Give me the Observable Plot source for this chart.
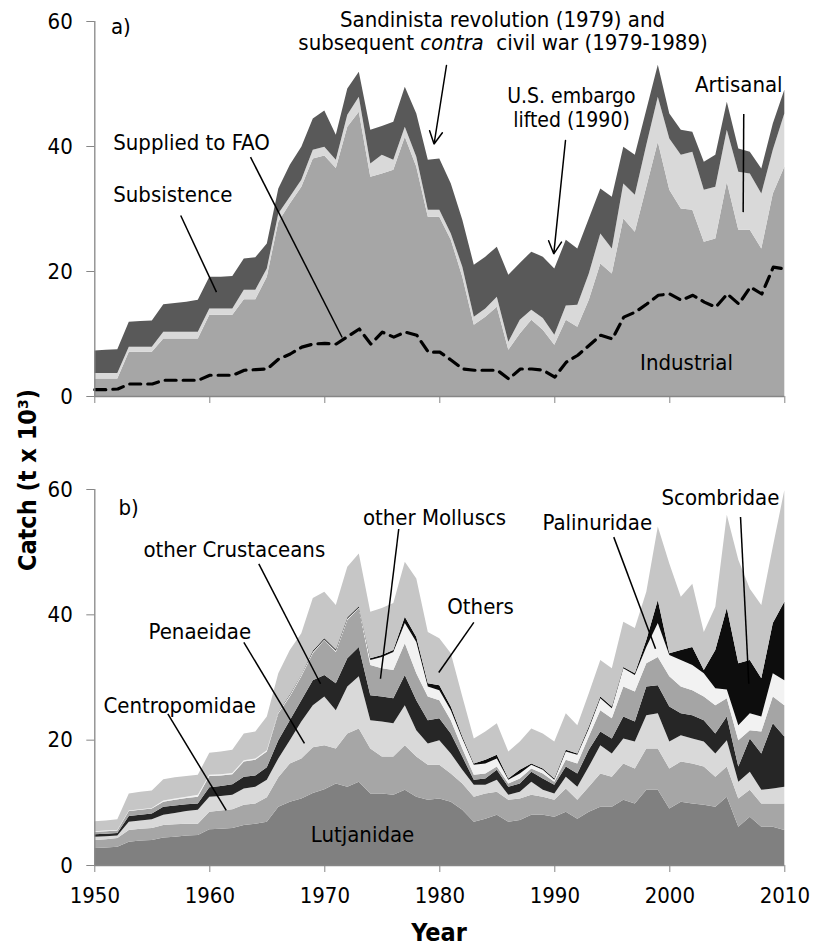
<!DOCTYPE html>
<html><head><meta charset="utf-8">
<script src="https://cdn.jsdelivr.net/npm/d3@7"></script>
<script src="https://cdn.jsdelivr.net/npm/@observablehq/plot@0.6"></script>
<style>
body{margin:0;background:#fff;}
#fig{position:relative;width:822px;height:946px;overflow:hidden;font-family:"DejaVu Sans Condensed","DejaVu Sans",sans-serif;font-stretch:condensed;}
#fig svg{position:absolute;left:0;}
.ttl{position:absolute;font-weight:bold;font-size:25px;white-space:nowrap;color:#000;line-height:1;}
</style></head><body>
<div id="fig"></div>
<script>
// ---------- data ----------
const years = d3.range(1950, 2011);
const decades = [1950, 1960, 1970, 1980, 1990, 2000, 2010];
const yTicks = [0, 20, 40, 60];

// panel a (t x 10^3)
const layersA = ["Industrial", "Artisanal", "Subsistence"];
const colorsA = ["#a6a6a6", "#d9d9d9", "#595959"];
const industrial = [2.8,2.8,2.8,7.1,7.1,7.1,9.2,9.2,9.2,9.2, 13,13,13,15.5,15.5,19.1,27.9,30.8,33.5,38, 38.5,36.5,43.1,45.5,35.1,35.6,36.2,41.5,36.7,28.7, 28.7,25,19.1,11.4,12.7,14.3,7.4,10,12.2,10.6, 8.2,12.2,11.1,15.4,21.2,19.6,28.4,26.3,33.5,40.7, 33,30,29.8,24.7,25.2,34.3,26.6,26.6,23.6,32.4,36.7];
const artisanal = [0.9,0.9,0.9,0.8,0.8,0.8,1.1,1.1,1.1,1.1, 1.0,1.0,1.0,1.5,1.5,1.3,1.3,1.1,1.1,1.4, 1.4,1.3,1.9,2.4,2.1,3.0,1.6,1.6,1.6,1.1, 1.1,1.0,1.6,1.3,1.3,1.6,1.3,2.2,1.6,1.9, 1.6,2.3,3.5,4.2,4.8,4.0,5.6,5.9,6.7,7.2, 8.2,8.6,9.3,8.3,8.3,8.3,9.3,9.0,8.8,7.0,8.5];
const subsistence = [3.6,3.7,3.8,4.0,4.1,4.2,4.4,4.6,4.8,5.1, 5.1,5.1,5.2,5.0,5.2,4.0,4.0,5.1,5.3,5.0, 5.8,4.0,4.2,4.0,5.4,4.6,6.1,6.4,6.9,8.0, 8.2,8.0,7.5,8.3,8.3,8.0,10.7,9.1,9.3,9.8, 10.6,10.5,9.0,8.8,7.2,8.3,5.9,6.4,5.6,5.1, 4.0,4.0,3.2,4.5,5.1,4.5,3.7,3.5,4.0,4.2,3.8];
const suppliedToFAO = [1.1,1.1,1.2,2.0,2.0,2.0,2.6,2.6,2.6,2.6, 3.4,3.4,3.4,4.2,4.3,4.4,6.0,6.8,7.9,8.4, 8.5,8.4,9.6,10.8,8.4,10.3,9.5,10.3,9.8,7.1, 7.1,5.8,4.4,4.2,4.2,4.2,2.8,4.4,4.4,4.2, 3.1,5.5,6.6,8.2,9.8,9.2,12.7,13.5,14.8,16.2, 16.4,15.4,16.2,15.1,14.3,16.4,14.8,17.5,16.4,20.7,20.4];

// panel b (t x 10^3), bottom to top
const layersB = ["Lutjanidae", "Centropomidae", "Penaeidae", "other Crustaceans", "other Molluscs", "Palinuridae", "Scombridae", "Others"];
const colorsB = ["#808080", "#a6a6a6", "#d9d9d9", "#262626", "#a5a5a5", "#f2f2f2", "#0d0d0d", "#c6c6c6"];
const lutjanidae = [2.7,2.8,2.9,3.7,3.9,4.0,4.4,4.5,4.7,4.8, 5.7,5.8,5.9,6.4,6.6,6.9,9.3,10.1,10.6,11.5, 12.1,13.0,12.5,13.3,11.4,11.4,11.2,12.0,10.9,10.4, 10.6,10.1,8.8,6.9,7.4,8.0,6.9,7.2,8.0,8.0, 7.7,8.5,7.4,8.5,9.3,9.3,10.4,9.8,12.0,12.0, 9.0,10.1,9.8,9.6,9.3,10.9,6.1,7.7,6.1,6.1,5.6];
const centropomidae = [1.3,1.3,1.4,1.9,1.9,1.9,2.0,2.0,1.9,1.8, 2.8,2.9,3.0,3.2,3.2,3.9,4.7,6.1,6.4,7.3, 7.0,5.6,8.5,8.5,7.2,5.9,6.1,7.1,6.4,5.6, 5.4,4.5,4.2,4.0,4.0,3.7,3.5,3.4,3.2,2.9, 2.7,3.7,3.0,4.0,5.3,4.8,5.8,5.6,6.6,6.6, 6.4,6.4,6.4,6.1,4.8,4.8,4.5,4.3,3.7,3.7,4.2];
const penaeidae = [0.5,0.5,0.4,1.3,1.3,1.4,1.6,1.8,2.0,2.2, 2.4,2.3,2.3,2.6,2.7,2.8,3.0,3.7,5.9,6.7, 7.8,6.1,7.5,8.3,4.5,5.6,5.3,6.4,4.2,3.4, 3.9,3.2,2.2,1.9,1.4,1.9,0.8,1.1,2.1,1.1, 1.0,1.9,2.1,3.2,4.5,3.7,4.0,4.3,5.3,5.6, 4.3,4.2,4.0,4.0,3.7,4.2,2.7,2.9,2.2,2.4,2.7];
const otherCrustaceans = [0.4,0.4,0.4,0.9,0.9,0.9,1.3,1.2,1.1,1.0, 1.5,1.6,1.7,1.9,1.8,2.0,2.9,3.2,3.4,4.0, 3.4,4.3,4.5,4.7,4.0,4.0,4.0,4.8,4.8,3.7, 3.5,3.2,2.1,0.8,1.0,1.6,1.3,1.3,1.6,1.8, 1.4,1.6,2.1,2.7,2.2,2.4,3.5,3.2,4.6,4.5, 5.6,3.5,3.7,3.4,3.2,3.8,2.4,5.3,5.8,10.4,8.0];
const otherMolluscs = [0.4,0.4,0.4,0.8,0.8,0.8,0.8,0.9,1.0,1.1, 1.8,1.7,1.6,2.4,2.5,2.5,4.3,3.8,3.8,4.3, 5.6,5.0,6.1,6.2,4.8,4.5,4.5,5.1,4.3,3.8, 2.9,2.1,1.3,0.8,0.8,0.5,0.5,0.8,0.5,0.8, 0.5,1.1,1.6,2.1,3.4,3.2,4.8,4.8,3.7,4.5, 4.8,4.3,4.0,3.8,4.5,2.9,4.2,1.3,3.5,4.3,5.0];
const palinuridae = [0.1,0.1,0.1,0.1,0.1,0.1,0.2,0.2,0.2,0.3, 0.2,0.2,0.2,0.2,0.2,0.2,0.2,0.2,0.2,0.2, 0.1,0.2,0.2,0.1,0.8,1.8,2.9,3.2,5.0,1.6, 1.6,1.6,1.6,1.6,1.6,1.3,0.6,0.8,0.6,0.6, 0.3,1.3,1.4,1.3,1.9,1.6,2.9,2.6,2.6,5.4, 3.4,4.2,4.0,3.7,2.7,1.4,2.4,2.7,2.4,3.7,4.0];
const scombridae = [0,0,0,0,0,0,0,0,0,0, 0,0,0,0,0,0,0.1,0.1,0.1,0.2, 0.2,0.2,0.2,0.2,0.3,0.3,0.3,1.0,0.8,0.5, 0.8,0.6,0.3,0.2,0.6,0.6,0.2,0.6,0.2,0.2, 0.2,0.3,0.2,0.3,0.3,0.3,0.2,0.3,1.1,3.7, 0.3,1.6,2.9,0.5,6.1,13.0,9.9,8.5,6.1,8.0,12.5];
const others = [1.6,1.6,1.7,2.7,2.8,2.8,3.4,3.4,3.3,3.2, 3.5,3.6,3.7,4.3,4.3,5.4,6.1,7.1,6.6,8.4, 7.4,7.1,8.1,8.4,7.4,7.5,7.5,8.8,9.3,8.2, 7.5,8.5,6.4,4.0,4.5,5.0,4.3,4.5,5.6,5.6, 5.9,5.8,4.5,5.3,5.8,6.1,7.2,7.2,7.7,11.7, 14.3,8.5,10.1,6.1,6.9,14.9,16.5,11.4,11.7,12.2,17.8];
const seriesB = [lutjanidae, centropomidae, penaeidae, otherCrustaceans, otherMolluscs, palinuridae, scombridae, others];

// annotations (data coordinates: year, catch)
const labelsA = [
  {x:1951.4, y:59.2, t:"a)", a:"start"},
  {x:1951.6, y:40.5, t:"Supplied to FAO", a:"start"},
  {x:1951.6, y:32.2, t:"Subsistence", a:"start"},
  {x:1985.45, y:60.2, t:"Sandinista revolution (1979) and", a:"middle"},
  {x:1985.5, y:56.5, t:"subsequent contra  civil war (1979-1989)", a:"middle"},
  {x:2006.0, y:49.9, t:"Artisanal", a:"middle"},
  {x:2001.45, y:5.3, t:"Industrial", a:"middle"}
];
const labelEmbargo = [{x:1991.45, y:46.3, t:"U.S. embargo\nlifted (1990)"}];
const leadersA = [
  {x1:1957.47, y1:28.96, x2:1960.58, y2:16.7},
  {x1:1963.54, y1:38.3, x2:1971.51, y2:9.44},
  {x1:2006.43, y1:45.2, x2:2006.38, y2:29.5}
];
const arrowsA = [
  {x1:1980.58, y1:52.96, x2:1979.5, y2:40.4},
  {x1:1990.93, y1:40.96, x2:1989.91, y2:22.83}
];
const labelsB = [
  {x:1952.06, y:57.1, t:"b)", a:"start"},
  {x:1954.23, y:50.3, t:"other Crustaceans", a:"start"},
  {x:1954.67, y:37.3, t:"Penaeidae", a:"start"},
  {x:1950.76, y:25.4, t:"Centropomidae", a:"start"},
  {x:1973.28, y:4.8, t:"Lutjanidae", a:"middle"},
  {x:1979.54, y:55.4, t:"other Molluscs", a:"middle"},
  {x:1983.54, y:41.3, t:"Others", a:"middle"},
  {x:1993.7, y:54.6, t:"Palinuridae", a:"middle"},
  {x:2004.4, y:58.6, t:"Scombridae", a:"middle"}
];
const leadersB = [
  {x1:1964.26, y1:48.14, x2:1969.63, y2:29.0},
  {x1:1962.96, y1:35.6, x2:1968.23, y2:19.5},
  {x1:1956.35, y1:24.2, x2:1961.43, y2:8.78},
  {x1:1976.43, y1:53.7, x2:1974.84, y2:29.8},
  {x1:1982.96, y1:38.8, x2:1979.91, y2:30.8},
  {x1:1995.13, y1:52.4, x2:1998.76, y2:34.6},
  {x1:2006.15, y1:55.6, x2:2006.87, y2:29.0}
];

// ---------- build ----------
const FONT = '"DejaVu Sans Condensed","DejaVu Sans",sans-serif';
const AX = "#868686";
const rowsA = years.flatMap((yr, i) => [
  {year: yr, layer: "Industrial", v: industrial[i]},
  {year: yr, layer: "Artisanal", v: artisanal[i]},
  {year: yr, layer: "Subsistence", v: subsistence[i]}
]);
const faoRows = years.map((yr, i) => ({year: yr, v: suppliedToFAO[i]}));
const rowsB = years.flatMap((yr, i) => layersB.map((l, k) => ({year: yr, layer: l, v: seriesB[k][i]})));

function textMarks(arr) {
  return [
    Plot.text(arr.filter(d => d.a === "start"), {x: "x", y: "y", text: "t", textAnchor: "start", lineAnchor: "middle", fontSize: 22, fill: "#000"}),
    Plot.text(arr.filter(d => d.a === "middle"), {x: "x", y: "y", text: "t", textAnchor: "middle", lineAnchor: "middle", fontSize: 22, fill: "#000"})
  ];
}
const common = {
  width: 822, marginLeft: 94.3, marginRight: 37.7,
  style: {fontFamily: FONT, fontSize: "22px", fontStretch: "condensed", overflow: "visible", background: "transparent", color: "#000"},
  x: {domain: [1950, 2010], label: null},
  y: {domain: [0, 60], label: null}
};

const plotA = Plot.plot({
  ...common,
  height: 405, marginTop: 21, marginBottom: 9,
  color: {type: "ordinal", domain: layersA, range: colorsA},
  marks: [
    Plot.areaY(rowsA, {x: "year", y: "v", fill: "layer"}),
    Plot.lineY(faoRows, {x: "year", y: "v", stroke: "#000", strokeWidth: 3.2, strokeDasharray: "11,7"}),
    Plot.ruleY([0], {stroke: AX, strokeWidth: 1.3}),
    Plot.ruleX([1950], {y1: 0, y2: 60, stroke: AX, strokeWidth: 1.3}),
    Plot.axisX({ticks: decades, tickSize: 7, tickFormat: () => "", stroke: AX}),
    Plot.axisY({ticks: yTicks, tickSize: 8, tickPadding: 14, stroke: AX, fill: "#000", fontSize: 22}),
    ...textMarks(labelsA),
    Plot.text(labelEmbargo, {x: "x", y: "y", text: "t", textAnchor: "middle", lineAnchor: "middle", lineHeight: 1.15, fontSize: 21, fill: "#000"}),
    Plot.link(leadersA, {x1: "x1", y1: "y1", x2: "x2", y2: "y2", stroke: "#000", strokeWidth: 1.5}),
    Plot.arrow(arrowsA, {x1: "x1", y1: "y1", x2: "x2", y2: "y2", stroke: "#000", strokeWidth: 1.5, headLength: 14, headAngle: 55})
  ]
});

const plotB = Plot.plot({
  ...common,
  height: 476, marginTop: 19, marginBottom: 81,
  color: {type: "ordinal", domain: layersB, range: colorsB},
  marks: [
    Plot.areaY(rowsB, {x: "year", y: "v", fill: "layer"}),
    Plot.ruleY([0], {stroke: AX, strokeWidth: 1.3}),
    Plot.ruleX([1950], {y1: 0, y2: 60, stroke: AX, strokeWidth: 1.3}),
    Plot.axisX({ticks: decades, tickSize: 7, tickPadding: 15, tickFormat: d => String(d), stroke: AX, fill: "#000", fontSize: 22}),
    Plot.axisY({ticks: yTicks, tickSize: 8, tickPadding: 14, stroke: AX, fill: "#000", fontSize: 22}),
    ...textMarks(labelsB),
    Plot.link(leadersB, {x1: "x1", y1: "y1", x2: "x2", y2: "y2", stroke: "#000", strokeWidth: 1.5})
  ]
});

const fig = document.getElementById("fig");
plotA.style.top = "0px";
plotB.style.top = "470px";
fig.appendChild(plotA);
fig.appendChild(plotB);

// italic "contra"
d3.select(plotA).selectAll("text").filter(function() { return this.textContent.indexOf("contra") >= 0; })
  .each(function() {
    const el = d3.select(this);
    el.text("");
    el.append("tspan").text("subsequent ");
    el.append("tspan").attr("font-style", "italic").text("contra");
    el.append("tspan").text("\u00a0 civil war (1979-1989)");
  });

// axis titles
const yt = document.createElement("div");
yt.className = "ttl";
yt.textContent = "Catch (t x 10\u00b3)";
yt.style.left = "27px"; yt.style.top = "480px";
yt.style.transform = "translate(-50%,-50%) rotate(-90deg)";
fig.appendChild(yt);
const xt = document.createElement("div");
xt.className = "ttl";
xt.textContent = "Year";
xt.style.left = "439px"; xt.style.top = "920px";
xt.style.transform = "translateX(-50%)";
fig.appendChild(xt);
</script>
</body></html>
